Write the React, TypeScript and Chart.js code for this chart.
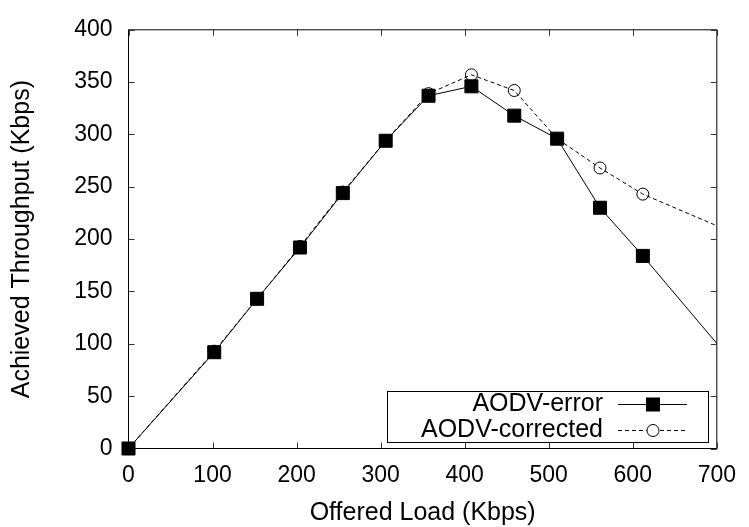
import React, { useEffect, useRef } from 'react';
import { Chart, registerables } from 'chart.js';

Chart.register(...registerables);

// ---- data ----
const offeredLoad = [0, 102, 153, 204, 255, 306, 357, 408, 459, 510, 561, 612, 714];
const aodvError = [0, 92, 143, 192, 244, 294, 337, 346, 318, 296, 230, 184, 87];
const aodvCorrected = [0, 93, 143, 193, 245, 294, 339, 357, 342, 296, 268, 243, 208];
const seriesLabels = ['AODV-error', 'AODV-corrected'];
const xTickValues = [0, 100, 200, 300, 400, 500, 600, 700];
const yTickValues = [0, 50, 100, 150, 200, 250, 300, 350, 400];
const xTitle = 'Offered Load (Kbps)';
const yTitle = 'Achieved Throughput (Kbps)';

const FONT = "'Liberation Sans', Arial, Helvetica, sans-serif";

const framePlugin = {
  id: 'frameAndMirrorTicks',
  beforeDatasetsDraw(chart: any) {
    const { ctx, chartArea: a, scales } = chart;
    ctx.save();
    ctx.strokeStyle = '#000';
    ctx.lineWidth = 1;
    ctx.strokeRect(a.left, a.top, a.right - a.left, a.bottom - a.top);
    ctx.strokeStyle = '#333';
    const len = 6;
    ctx.beginPath();
    for (const t of scales.x.ticks) {
      const px = Math.round(scales.x.getPixelForValue(t.value)) + 0.5;
      ctx.moveTo(px, a.bottom);
      ctx.lineTo(px, a.bottom - len);
      ctx.moveTo(px, a.top);
      ctx.lineTo(px, a.top + len);
    }
    for (const t of scales.y.ticks) {
      const py = Math.round(scales.y.getPixelForValue(t.value)) + 0.5;
      ctx.moveTo(a.left, py);
      ctx.lineTo(a.left + len, py);
      ctx.moveTo(a.right, py);
      ctx.lineTo(a.right - len, py);
    }
    ctx.stroke();
    ctx.restore();
  },
};

const keyPlugin = {
  id: 'gnuplotKey',
  afterDatasetsDraw(chart: any) {
    const { ctx, chartArea: a } = chart;
    const boxW = 321;
    const boxH = 51;
    const boxR = a.right - 9;
    const boxB = a.bottom - 7;
    const left = Math.round(boxR - boxW) + 0.5;
    const top = Math.round(boxB - boxH) + 0.5;
    const right = left + boxW;
    ctx.save();
    ctx.strokeStyle = '#000';
    ctx.lineWidth = 1;
    ctx.strokeRect(left, top, boxW, boxH);
    chart.data.datasets.forEach((ds: any, i: number) => {
      const y = top + 13 + i * 26;
      ctx.font = `25px ${FONT}`;
      ctx.fillStyle = '#000';
      ctx.textAlign = 'right';
      ctx.textBaseline = 'middle';
      ctx.fillText(ds.label, right - 105.5, y);
      // sample line
      ctx.beginPath();
      ctx.setLineDash(ds.borderDash || []);
      ctx.strokeStyle = ds.borderColor;
      ctx.lineWidth = ds.borderWidth;
      ctx.moveTo(right - 90.5, y);
      ctx.lineTo(right - 21.5, y);
      ctx.stroke();
      ctx.setLineDash([]);
      // marker
      const cx = right - 55.5;
      if (ds.pointStyle === 'rect') {
        const s = Math.SQRT1_2 * ds.pointRadius;
        ctx.fillStyle = ds.pointBackgroundColor;
        ctx.fillRect(cx - s, y - s, 2 * s, 2 * s);
        ctx.strokeStyle = ds.pointBorderColor;
        ctx.lineWidth = ds.pointBorderWidth;
        ctx.strokeRect(cx - s, y - s, 2 * s, 2 * s);
      } else {
        ctx.beginPath();
        ctx.arc(cx, y, ds.pointRadius, 0, Math.PI * 2);
        ctx.fillStyle = '#fff';
        ctx.fill();
        ctx.strokeStyle = ds.pointBorderColor;
        ctx.lineWidth = ds.pointBorderWidth;
        ctx.stroke();
      }
    });
    ctx.restore();
  },
};

export default function App() {
  const canvasRef = useRef<HTMLCanvasElement | null>(null);

  useEffect(() => {
    if (!canvasRef.current) return;
    const clip = { left: 12, bottom: 12, top: 0, right: 0 };
    const chart = new Chart(canvasRef.current, {
      type: 'line',
      data: {
        datasets: [
          {
            label: seriesLabels[0],
            data: offeredLoad.map((x, i) => ({ x, y: aodvError[i] })),
            borderColor: '#000',
            borderWidth: 1,
            tension: 0,
            pointStyle: 'rect',
            pointRadius: 9.2,
            pointBackgroundColor: '#000',
            pointBorderColor: '#000',
            pointBorderWidth: 1,
            clip,
          } as any,
          {
            label: seriesLabels[1],
            data: offeredLoad.map((x, i) => ({ x, y: aodvCorrected[i] })),
            borderColor: '#000',
            borderWidth: 1,
            borderDash: [4, 3],
            tension: 0,
            pointStyle: 'circle',
            pointRadius: 6,
            pointBackgroundColor: 'rgba(0,0,0,0)',
            pointBorderColor: '#000',
            pointBorderWidth: 1,
            clip,
          } as any,
        ],
      },
      options: {
        animation: false,
        responsive: true,
        maintainAspectRatio: false,
        events: [],
        layout: { padding: { left: 0, top: 18.5, right: 26.5, bottom: 0 } },
        plugins: { legend: { display: false }, tooltip: { enabled: false } },
        scales: {
          x: {
            type: 'linear',
            min: xTickValues[0],
            max: xTickValues[xTickValues.length - 1],
            afterBuildTicks: (s: any) => {
              s.ticks = xTickValues.map((v) => ({ value: v }));
            },
            afterFit: (s: any) => {
              s.height = 78.5;
            },
            grid: { display: false, drawTicks: false },
            border: { display: false },
            ticks: {
              padding: 13,
              color: '#000',
              maxRotation: 0,
              autoSkip: false,
              font: { family: FONT, size: 23 },
            },
            title: {
              display: true,
              text: xTitle,
              color: '#000',
              font: { family: FONT, size: 25, lineHeight: 1 },
              padding: { top: 0, bottom: 1 },
            },
          },
          y: {
            type: 'linear',
            min: yTickValues[0],
            max: yTickValues[yTickValues.length - 1],
            afterBuildTicks: (s: any) => {
              s.ticks = yTickValues.map((v) => ({ value: v }));
            },
            afterFit: (s: any) => {
              s.width = 128.5;
            },
            grid: { display: false, drawTicks: false },
            border: { display: false },
            ticks: {
              padding: 16,
              color: '#000',
              autoSkip: false,
              font: { family: FONT, size: 23 },
            },
            title: {
              display: true,
              text: yTitle,
              color: '#000',
              font: { family: FONT, size: 25, lineHeight: 1 },
              padding: { top: 10, bottom: 0 },
            },
          },
        },
      },
      plugins: [framePlugin, keyPlugin],
    } as any);
    return () => chart.destroy();
  }, []);

  return (
    <div style={{ position: 'fixed', left: 0, top: 0, width: 749, height: 527, background: '#fff' }}>
      <canvas ref={canvasRef} />
    </div>
  );
}
